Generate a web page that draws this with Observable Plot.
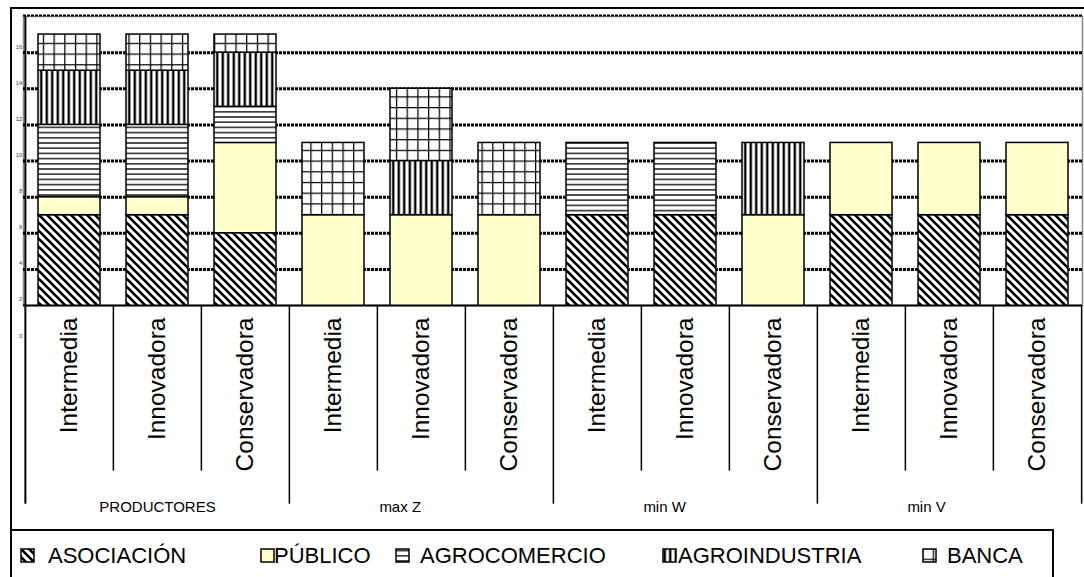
<!DOCTYPE html>
<html>
<head>
<meta charset="utf-8">
<script src="https://cdn.jsdelivr.net/npm/d3@7"></script>
<script src="https://cdn.jsdelivr.net/npm/@observablehq/plot@0.6"></script>
<style>
  html, body { margin: 0; padding: 0; background: #fff; }
  body { width: 1084px; height: 577px; position: relative; overflow: hidden; font-family: "Liberation Sans", Arial, sans-serif; }
  #chart { position: absolute; left: 0; top: 0; }
  #outer { position: absolute; left: 10px; top: 7px; width: 1080px; height: 580px; border-left: 2px solid #000; border-top: 2px solid #000; pointer-events: none; }
  #legend { position: absolute; left: 11px; top: 529px; width: 1041px; height: 60px; border-top: 2px solid #000; border-right: 2px solid #000; }
  .item { position: absolute; top: 14px; height: 22px; font-size: 22px; line-height: 22px; color: #000; white-space: nowrap; }
  .sw { position: absolute; top: 3px; }
  #defs { position: absolute; width: 0; height: 0; }
</style>
</head>
<body>
<svg id="defs" width="0" height="0">
  <defs>
    <pattern id="p-asoc" patternUnits="userSpaceOnUse" width="8" height="8">
      <rect width="8" height="8" fill="#fff"/>
      <path d="M-2,-2L10,10M-2,6L2,10M6,-2L10,2" stroke="#000" stroke-width="2.6"/>
    </pattern>
    <pattern id="p-agrocom" patternUnits="userSpaceOnUse" width="4" height="5.2">
      <rect width="4" height="5.2" fill="#fff"/>
      <path d="M0,2.6H4" stroke="#000" stroke-width="1.3"/>
    </pattern>
    <pattern id="p-agroind" patternUnits="userSpaceOnUse" width="5.5" height="4">
      <rect width="5.5" height="4" fill="#fff"/>
      <path d="M2.75,0V4" stroke="#000" stroke-width="2.4"/>
    </pattern>
    <pattern id="p-banca" patternUnits="userSpaceOnUse" width="10.7" height="10.7">
      <rect width="10.7" height="10.7" fill="#fff"/>
      <path d="M0,0.6H10.7M0.6,0V10.7" stroke="#000" stroke-width="1.3"/>
    </pattern>
  </defs>
</svg>
<div id="chart"></div>
<div id="outer"></div>
<div id="legend"></div>
<script>
// ---- data ----
const groups = ["PRODUCTORES", "max Z", "min W", "min V"];
const types = ["Intermedia", "Innovadora", "Conservadora"];
const series = ["ASOCIACIÓN", "PÚBLICO", "AGROCOMERCIO", "AGROINDUSTRIA", "BANCA"];
const asociacion    = [7, 7, 6,  0, 0, 0,  7, 7, 0,  7, 7, 7];
const publico       = [1, 1, 5,  7, 7, 7,  0, 0, 7,  4, 4, 4];
const agrocomercio  = [4, 4, 2,  0, 0, 0,  4, 4, 0,  0, 0, 0];
const agroindustria = [3, 3, 3,  0, 3, 0,  0, 0, 4,  0, 0, 0];
const banca         = [2, 2, 1,  4, 4, 4,  0, 0, 0,  0, 0, 0];
const yTicks = [0, 2, 4, 6, 8, 10, 12, 14, 16];
const gridValues = [4, 6, 8, 10, 12, 14, 16];

// ---- styles ----
const fills = ["url(#p-asoc)", "#FFFFCC", "url(#p-agrocom)", "url(#p-agroind)", "url(#p-banca)"];

const values = [asociacion, publico, agrocomercio, agroindustria, banca];
const slots = groups.flatMap(g => types.map(t => g + "|" + t));
const rows = [];
slots.forEach((slot, i) => {
  series.forEach((s, si) => {
    const v = values[si][i];
    if (v > 0) rows.push({slot, series: s, value: v});
  });
});

const W = 1084, H = 530, mL = 23, mR = 2, mT = 16, mB = 225;
const step = (W - mL - mR) / slots.length;
const groupStarts = slots.filter((d, i) => i % 3 === 0);
const innerStarts = slots.filter((d, i) => i % 3 !== 0);
const middles = slots.filter((d, i) => i % 3 === 1);
const font = "Liberation Sans, Arial, sans-serif";

const chart = Plot.plot({
  width: W, height: H,
  marginLeft: mL, marginRight: mR, marginTop: mT, marginBottom: mB,
  style: {fontFamily: font, background: "transparent", color: "#000"},
  x: {domain: slots, paddingInner: 0.3, paddingOuter: 0.15, axis: null},
  y: {domain: [2, 18], axis: null},
  color: {domain: series, range: fills},
  marks: [
    Plot.frame({stroke: "#8a8a8a", strokeWidth: 1.5}),
    Plot.ruleY(gridValues, {stroke: "#000", strokeWidth: 3, strokeDasharray: "3,1"}),
    Plot.ruleY([18], {stroke: "#000", strokeWidth: 2, strokeDasharray: "3,1", dy: -1}),
    Plot.barY(rows, {x: "slot", y: "value", fill: "series", stroke: "#000", strokeWidth: 1.5, clip: true}),
    Plot.ruleY([2], {stroke: "#000", strokeWidth: 2}),
    // left axis line
    Plot.ruleX([slots[0]], {x: d => d, y1: 18, y2: -9, dx: -step / 2, stroke: "#000", strokeWidth: 2}),
    // group separators
    Plot.ruleX(groupStarts.slice(1), {x: d => d, y1: 2, y2: -9, dx: -step / 2, stroke: "#000", strokeWidth: 1.5}),
    Plot.ruleX([slots[slots.length - 1]], {x: d => d, y1: 2, y2: -9, dx: step / 2, stroke: "#000", strokeWidth: 1.5}),
    // inner separators
    Plot.ruleX(innerStarts, {x: d => d, y1: 2, y2: -7.17, dx: -step / 2, stroke: "#000", strokeWidth: 1.5}),
    // y tick labels
    Plot.text(yTicks, {x: () => slots[0], y: d => d, text: d => String(d), dx: -step / 2 - 3, dy: -6, textAnchor: "end", fontSize: 6, fill: "#444"}),
    // category labels
    Plot.text(slots, {x: d => d, y: () => 2, text: d => d.split("|")[1], rotate: -90, textAnchor: "end", dy: 12, fontSize: 24.5, fill: "#000"}),
    // group labels
    Plot.text(middles.slice(0, 1), {x: d => d, y: () => 2, text: d => d.split("|")[0], dy: 202, fontSize: 15, fill: "#000"}),
    Plot.text(middles.slice(1), {x: d => d, y: () => 2, text: d => d.split("|")[0], dx: -step / 2 + 2, dy: 202, textAnchor: "start", fontSize: 15, fill: "#000"})
  ]
});
document.getElementById("chart").appendChild(chart);

// ---- legend ----
const swLeft = [9, 249, 384, 651, 911];
const txLeft = [37, 263, 409, 667, 936];
const legend = document.getElementById("legend");
series.forEach((s, i) => {
  const sw = document.createElementNS("http://www.w3.org/2000/svg", "svg");
  sw.setAttribute("width", 15); sw.setAttribute("height", 15);
  sw.setAttribute("class", "sw");
  sw.style.left = swLeft[i] + "px";
  sw.innerHTML = `<rect x="1" y="1" width="13" height="13" fill="${fills[i]}" stroke="#000" stroke-width="1.5"/>`;
  const wrap = document.createElement("div");
  wrap.className = "item";
  wrap.style.left = "0px";
  wrap.appendChild(sw);
  const t = document.createElement("span");
  t.textContent = s;
  t.style.position = "absolute";
  t.style.left = txLeft[i] + "px";
  wrap.appendChild(t);
  legend.appendChild(wrap);
});
</script>
</body>
</html>
